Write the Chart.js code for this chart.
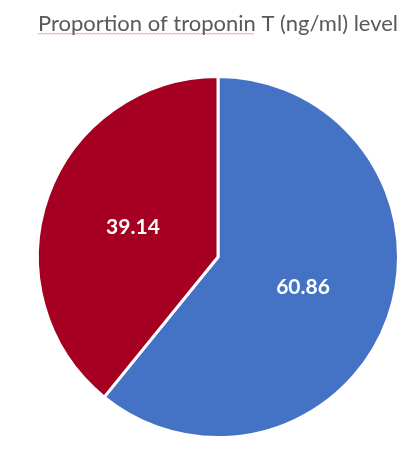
<!DOCTYPE html>
<html>
<head>
<meta charset="utf-8">
<script src="https://cdn.jsdelivr.net/npm/chart.js@4.4.1/dist/chart.umd.min.js"></script>
<style>
  html, body { margin: 0; padding: 0; background: #ffffff; }
  #wrap { width: 413px; height: 452px; position: relative; }
</style>
</head>
<body>
<div id="wrap"><canvas id="chart_canvas"></canvas></div>
<script>
// values
const labels = ["Group 1", "Group 2"];
const values = [60.86, 39.14];
const colours = ["#4472C4", "#A50021"];
const titleText = "Proportion of troponin T (ng/ml) level";
const flaggedWords = "Proportion of troponin";

const titleFont = "22px Lato";

// writes each slice's value on the slice centroid
const sliceLabels = {
  id: "sliceLabels",
  afterDatasetsDraw(chart)
  {
    const ctx = chart.ctx;
    const meta = chart.getDatasetMeta(0);
    ctx.save();
    ctx.fillStyle = "#ffffff";
    ctx.font = "bold 21px Lato";
    ctx.textAlign = "center";
    ctx.textBaseline = "middle";
    meta.data.forEach(function(arc, i)
    {
      const p = arc.tooltipPosition();
      ctx.fillText(values[i].toFixed(2), p.x, p.y);
    });
    ctx.restore();
  }
};

// the faint red spell-check squiggle under the first words of the title
const squiggle = {
  id: "squiggle",
  afterDraw(chart)
  {
    const tb = chart.titleBlock;
    if(!tb) return;
    const ctx = chart.ctx;
    ctx.save();
    ctx.font = titleFont;
    const full = ctx.measureText(titleText).width;
    const part = ctx.measureText(flaggedWords).width;
    const x0 = (tb.left + tb.right) / 2 - full / 2;
    const y = 33.5;
    ctx.strokeStyle = "rgba(225,90,90,0.55)";
    ctx.lineWidth = 1;
    ctx.beginPath();
    for(let x = x0; x <= x0 + part; x += 2)
    {
      const yy = y + ((Math.round((x - x0) / 2) % 2) ? 0.7 : -0.3);
      if(x == x0) ctx.moveTo(x, yy); else ctx.lineTo(x, yy);
    }
    ctx.stroke();
    ctx.restore();
  }
};

const config =
{
  type: "pie",
  data: {
    labels: labels,
    datasets: [{
      data: values,
      backgroundColor: colours,
      borderColor: "#ffffff",
      borderWidth: 3
    }]
  },
  options: {
    responsive: true,
    maintainAspectRatio: false,
    animation: false,
    layout: {
      padding: {left: 36, right: 13, top: 0, bottom: 13}
    },
    plugins: {
      legend: {display: false},
      tooltip: {enabled: false},
      title: {
        display: true,
        text: titleText,
        color: "#595959",
        font: {family: "Lato", size: 22, weight: "normal"},
        padding: {top: 11, bottom: 37.6}
      }
    }
  },
  plugins: [sliceLabels, squiggle]
};

new Chart(document.getElementById("chart_canvas"), config);
</script>
</body>
</html>
